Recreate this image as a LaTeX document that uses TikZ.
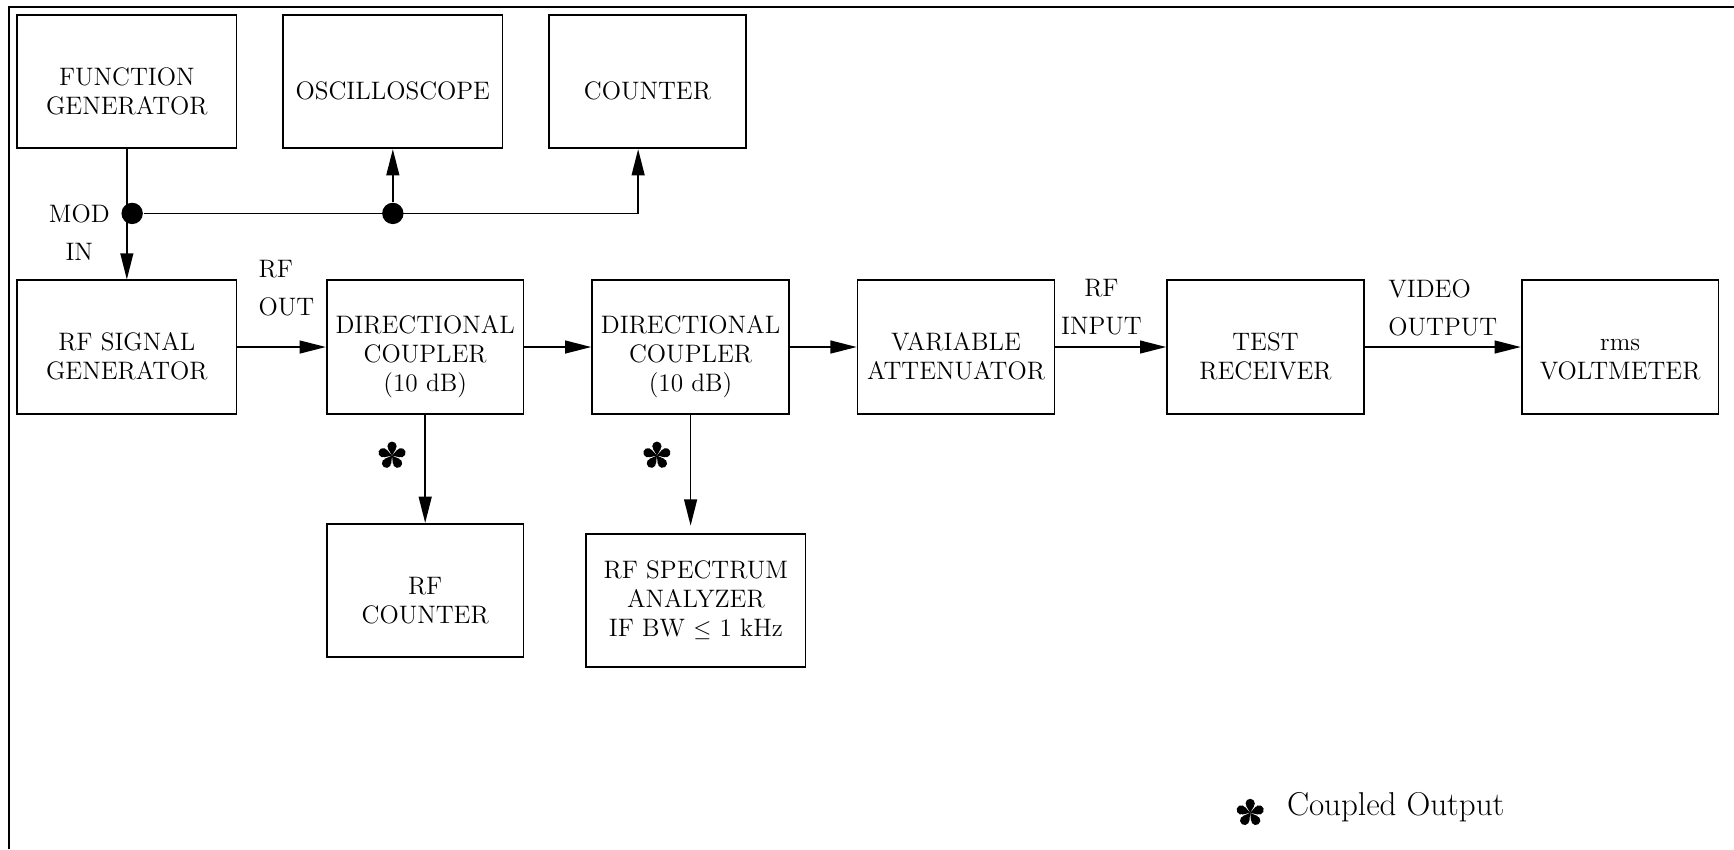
\documentclass[tikz,border=0pt]{standalone}
\usepackage{tikz}
\usetikzlibrary{arrows.meta,positioning}

\newcommand{\lowered}{\rule{0pt}{19pt}}

\tikzset{
  coupled/.pic={
    \foreach \a in {18,90,162,234,306} {
      \fill[rotate=\a] (0,0) -- (6.4,-3.7) -- (6.4,3.7) -- cycle;
      \fill[rotate=\a] (8.5,0) circle[radius=4.2];
    }
  }
}

\begin{document}
\begin{tikzpicture}[x=0.02cm,y=0.02cm,>={Triangle[length=13.5pt,width=6.6pt]},
                    line width=0.9pt,font=\fontsize{13}{15}\selectfont,
                    box/.style={draw,rectangle,align=center,inner sep=1pt,
                                minimum width=101.3pt,minimum height=68.6pt},
                    wide/.style={minimum width=113pt},
                    tag/.style={inner sep=0pt,font=\fontsize{13}{19.5}\selectfont},
                    dot/.style={circle,fill,inner sep=0pt,minimum size=11pt}]
    \useasboundingbox (0,0) rectangle (1568,768);
    \draw[line width=1.2pt] (8.1,0) |- (1568,761.8);

    \node[box,wide] (fungen) at (114.7,694.2) {\lowered FUNCTION\\GENERATOR};
    \node[box,wide] (scope) [right=23pt of fungen] {\lowered OSCILLOSCOPE};
    \node[box] (counter) [right=23pt of scope] {\lowered COUNTER};

    \node[box,wide] (rfgen) [below=67.1pt of fungen] {\lowered RF SIGNAL\\GENERATOR};
    \node[box] (coupler1) [right=45.5pt of rfgen] {\lowered DIRECTIONAL\\COUPLER\\(10 dB)};
    \node[box] (coupler2) [right=34.4pt of coupler1] {\lowered DIRECTIONAL\\COUPLER\\(10 dB)};
    \node[box] (atten) [right=34.4pt of coupler2] {\lowered VARIABLE\\ATTENUATOR};
    \node[box] (receiver) [right=57.1pt of atten] {\lowered TEST\\RECEIVER};
    \node[box] (voltmeter) [right=80.3pt of receiver] {\lowered rms\\VOLTMETER};

    \node[box] (rfcounter) [below=55.8pt of coupler1] {\lowered RF\\COUNTER};
    \node[box,wide] (analyzer) [below=60.9pt of coupler2,xshift=2.7pt]
        {RF SPECTRUM\\ANALYZER\\IF BW $\leq$ 1 kHz};

    \node[dot] (dot1) at (119.5,575) {};
    \node[dot] (dot2) at (scope.south |- dot1) {};

    \path[->]
    (fungen) edge node[left=8.4pt,tag,align=center,yshift=-9.3pt] {MOD\\IN} (rfgen)
    (dot2) edge (scope)

    (rfgen) edge node[above=15.4pt,tag,align=left,xshift=2.4pt] {RF\\OUT} (coupler1)
    (coupler1) edge (coupler2)
    (coupler2) edge (atten)
    (atten) edge node[above=5.7pt,tag,align=center,xshift=-4.8pt] {RF\\INPUT} (receiver)
    (receiver) edge node[above=5.4pt,tag,align=left] {VIDEO\\OUTPUT} (voltmeter)

    (coupler1) edge (rfcounter)
    (coupler2) edge[shorten >=3.7pt] (coupler2 |- analyzer.north);
    \draw[->] (dot1) -| ([xshift=-4.8pt]counter.south);

    \pic at (354.5,356) {coupled};
    \pic at (594,356) {coupled};
    \pic at (1130.5,33) {coupled};
    \node[anchor=base west,inner sep=0pt,font=\fontsize{17}{20}\selectfont] (legend)
        at (1163,31) {Coupled Output};
\end{tikzpicture}
\end{document}
